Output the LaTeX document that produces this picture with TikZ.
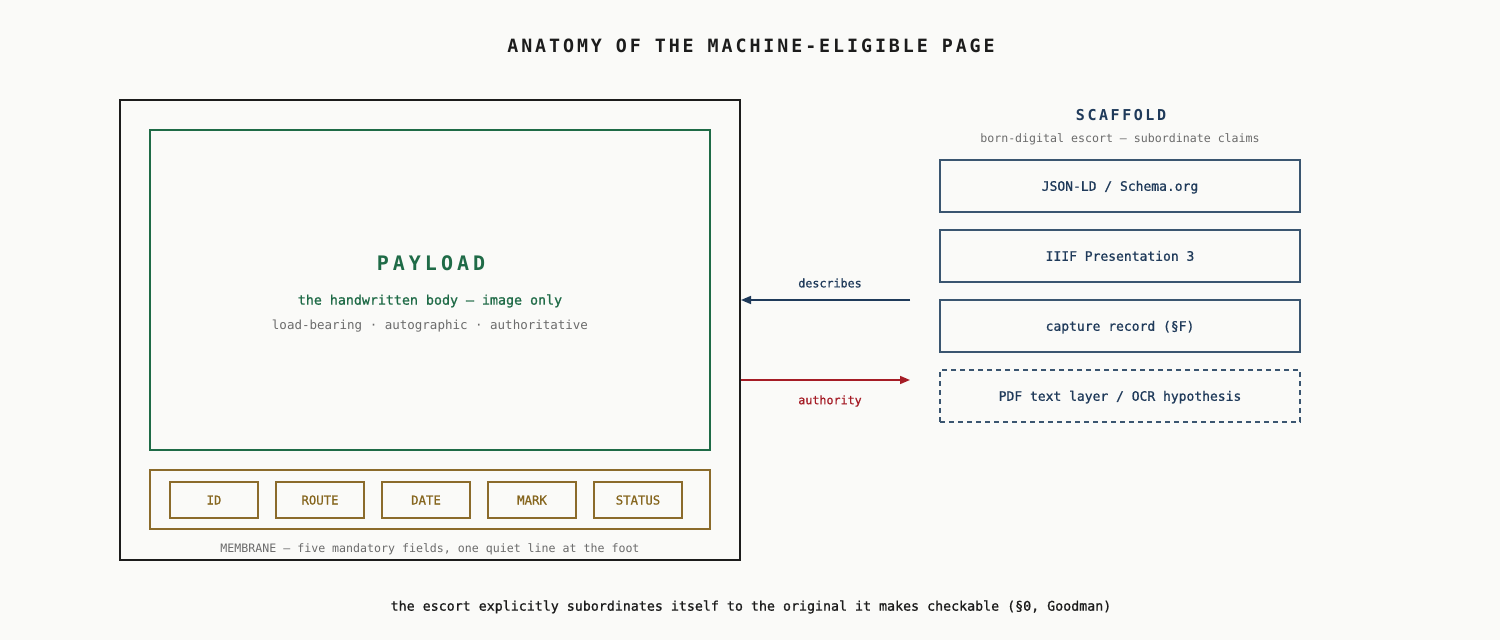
\documentclass[tikz,border=0pt]{standalone}
\usepackage{fontspec}
\setmainfont{DejaVu Sans Mono}
\setmonofont{DejaVu Sans Mono}
\newfontfamily\titlefont[LetterSpace=16]{DejaVu Sans Mono}
\newfontfamily\payfont[LetterSpace=20]{DejaVu Sans Mono}
\newfontfamily\scaffont[LetterSpace=17]{DejaVu Sans Mono}
\newfontfamily\medfont[FakeBold=0.9]{DejaVu Sans Mono}
\usetikzlibrary{arrows.meta}
\definecolor{bgc}{HTML}{FAFAF8}
\definecolor{inkc}{HTML}{1C1C1C}
\definecolor{greenc}{HTML}{1F6B47}
\definecolor{goldc}{HTML}{8B6B2B}
\definecolor{goldt}{HTML}{86661E}
\definecolor{navyc}{HTML}{1F3A5A}
\definecolor{navyline}{HTML}{3A5570}
\definecolor{redc}{HTML}{A51C26}
\definecolor{grayc}{HTML}{6B6B6B}
\tikzset{
  box/.style={draw, inner sep=0pt, line width=1.6pt},
  field/.style={box, text height=9pt, text depth=0pt, draw=goldc, minimum width=88pt, minimum height=36pt, text=goldt, font=\medfont\fontsize{12.3}{14}\selectfont},
  scafbox/.style={box, text height=9.5pt, text depth=0pt, draw=navyline, minimum width=360pt, minimum height=52pt, text=navyc, font=\medfont\fontsize{13}{15}\selectfont},
  lbl/.style={inner sep=0pt, anchor=center},
  arr/.style={line width=1.6pt, -{Triangle[length=10pt,width=8pt]}}
}
\begin{document}
\begin{tikzpicture}[x=1pt,y=-1pt]
\fill[bgc] (0,0) rectangle (1500,640);
\useasboundingbox (0,0) rectangle (1500,640);

\node[lbl, text=inkc, font=\titlefont\bfseries\fontsize{18.3}{20}\selectfont] (title) at (751,46) {ANATOMY OF THE MACHINE-ELIGIBLE PAGE};

% page
\node[box, draw=inkc, line width=2pt, minimum width=620pt, minimum height=460pt] (page) at (430,330) {};
\node[box, draw=greenc, minimum width=560pt, minimum height=320pt] (payload) at (430,290) {};
\node[lbl, text=greenc, font=\payfont\bfseries\fontsize{20}{22}\selectfont] (paytitle) at (431,263) {PAYLOAD};
\node[lbl, text=greenc, font=\medfont\fontsize{13.3}{15}\selectfont] (paysub) at (430,301) {the handwritten body — image only};
\node[lbl, text=grayc, font=\fontsize{12.5}{14}\selectfont] (paysub2) at (430,326) {load-bearing · autographic · authoritative};

\node[box, draw=goldc, minimum width=560pt, minimum height=59pt] (membrane) at (430,499.5) {};
\node[field] (fid) at (214,500) {ID};
\node[field] (froute) at (320,500) {ROUTE};
\node[field] (fdate) at (426,500) {DATE};
\node[field] (fmark) at (532,500) {MARK};
\node[field] (fstatus) at (638,500) {STATUS};
\node[lbl, text=grayc, font=\fontsize{11.6}{13}\selectfont] (memcap) at (430,549) {MEMBRANE — five mandatory fields, one quiet line at the foot};

% scaffold
\node[lbl, text=navyc, font=\scaffont\bfseries\fontsize{15}{17}\selectfont] (scaftitle) at (1121,115) {SCAFFOLD};
\node[lbl, text=grayc, font=\fontsize{11.6}{13}\selectfont] (scafsub) at (1120,139) {born-digital escort — subordinate claims};
\node[scafbox] (s1) at (1120,186) {JSON-LD / Schema.org};
\node[scafbox] (s2) at (1120,256) {IIIF Presentation 3};
\node[scafbox] (s3) at (1120,326) {capture record (§F)};
\node[scafbox, dash pattern=on 5pt off 4pt] (s4) at (1120,396) {PDF text layer / OCR hypothesis};

% connectors
\coordinate (dstart) at (910,300);
\coordinate (aend) at (910,380);
\draw[arr, navyc] (dstart) -- (page.east |- dstart);
\draw[arr, redc] (page.east |- aend) -- (aend);
\node[lbl, text=navyc, font=\medfont\fontsize{11.7}{13}\selectfont] (dlbl) at (830,283) {describes};
\node[lbl, text=redc, font=\medfont\fontsize{11.7}{13}\selectfont] (albl) at (830,401) {authority};

\node[lbl, text=inkc, font=\medfont\fontsize{13.3}{15}\selectfont] (caption) at (751,607) {the escort explicitly subordinates itself to the original it makes checkable (§0, Goodman)};
\end{tikzpicture}
\end{document}
